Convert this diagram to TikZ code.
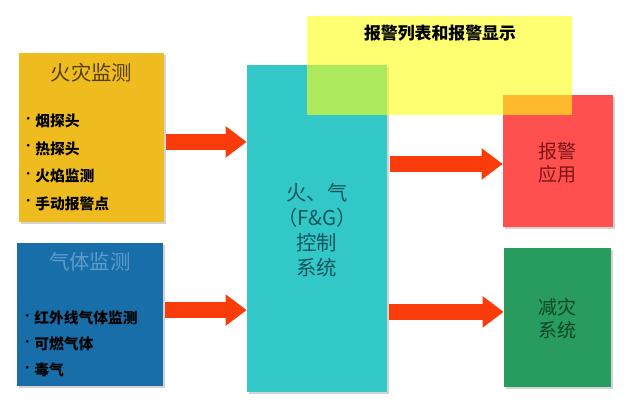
\documentclass[tikz,border=0pt]{standalone}
\usepackage{fontspec}
\newfontfamily\cjk{Noto Sans CJK SC}
\usetikzlibrary{arrows.meta,positioning,shadows}
\definecolor{firegold}{RGB}{238,188,30}
\definecolor{firetext}{RGB}{85,60,10}
\definecolor{gasblue}{RGB}{24,110,168}
\definecolor{gastext}{RGB}{95,155,205}
\definecolor{fgcyan}{RGB}{50,200,200}
\definecolor{fgtext}{RGB}{20,85,95}
\definecolor{listyellow}{RGB}{255,255,20}
\definecolor{alarmred}{RGB}{255,80,80}
\definecolor{alarmtext}{RGB}{125,20,20}
\definecolor{mitgreen}{RGB}{40,155,95}
\definecolor{mittext}{RGB}{15,70,40}
\definecolor{arrowred}{RGB}{250,60,10}
\newcommand{\dotitem}{\raisebox{0.3em}{\fontsize{7}{7}\selectfont•}\hspace{0.15em}}

\begin{document}
\begin{tikzpicture}[x=0.025cm, y=-0.025cm,
    panel/.style={rectangle, inner sep=0pt,
        drop shadow={shadow xshift=0.05cm, shadow yshift=-0.05cm, opacity=0.35}},
    title/.style={font=\cjk\fontsize{14.5}{17.7}\selectfont, align=center, inner sep=0pt},
    items/.style={font=\cjk\bfseries\fontsize{10.5}{19.5}\selectfont, align=left, inner sep=0pt},
    bigarr/.style={-{Triangle[length=0.525cm, width=0.75cm]}, line width=0.4cm, arrowred}
]
    \useasboundingbox (0,0) rectangle (634,405);

    % Detection panels
    \node[panel, fill=firegold, minimum width=3.625cm, minimum height=4.225cm] (fire) at (91.5,137.5) {};
    \node[title, text=firetext] (firetitle) at (91.5,73) {火灾监测};
    \node[items, anchor=west] (fireitems) at (23,162.5)
        {\dotitem 烟探头\\\dotitem 热探头\\\dotitem 火焰监测\\\dotitem 手动报警点};

    \node[panel, fill=gasblue, minimum width=3.65cm, minimum height=3.575cm] (gas) at (90,314.5) {};
    \node[title, text=gastext] (gastitle) at (90,262) {气体监测};
    \node[items, anchor=west, font=\cjk\bfseries\fontsize{10.5}{18.5}\selectfont] (gasitems) at (22,344)
        {\dotitem 红外线气体监测\\\dotitem 可燃气体\\\dotitem 毒气};

    % Controller and outputs
    \node[panel, fill=fgcyan, minimum width=3.5cm, minimum height=8.175cm] (fg) at (317,228.5) {};
    \node[title, text=fgtext] (fgtitle) at (317,230.5) {火、气\\（F\&G）\\控制\\系统};

    \node[panel, fill=alarmred, minimum width=2.75cm, minimum height=3.3cm] (alarm) at (558,161) {};
    \node[title, text=alarmtext, font=\cjk\fontsize{13.5}{16.5}\selectfont] (alarmtitle) at (557,162.5) {报警\\应用};

    \node[panel, fill=mitgreen, minimum width=2.675cm, minimum height=3.475cm] (mit) at (557.5,317.5) {};
    \node[title, text=mittext, font=\cjk\fontsize{13.5}{16.5}\selectfont] (mittitle) at (557,319) {减灾\\系统};

    % Alarm list overlay
    \node[rectangle, fill=listyellow, fill opacity=0.6, text opacity=1,
        minimum width=6.625cm, minimum height=2.475cm, inner sep=0pt] (list) at (439.5,65.5) {};
    \node[font=\cjk\bfseries\fontsize{12}{14}\selectfont, inner sep=0pt] (listtitle) at (440,33) {报警列表和报警显示};

    % Arrows
    \draw[bigarr] ([xshift=0.05cm, yshift=-0.11cm]fire.east) -- ([yshift=-0.11cm]fire.east -| fg.west);
    \draw[bigarr] ([xshift=0.05cm, yshift=0.11cm]gas.east) -- ([yshift=0.11cm]gas.east -| fg.west);
    \draw[bigarr] ([xshift=0.075cm, yshift=-0.075cm]fg.east |- alarm.west) -- ([yshift=-0.075cm]alarm.west);
    \draw[bigarr] ([xshift=0.05cm, yshift=0.14cm]fg.east |- mit.west) -- ([yshift=0.14cm]mit.west);
\end{tikzpicture}
\end{document}
